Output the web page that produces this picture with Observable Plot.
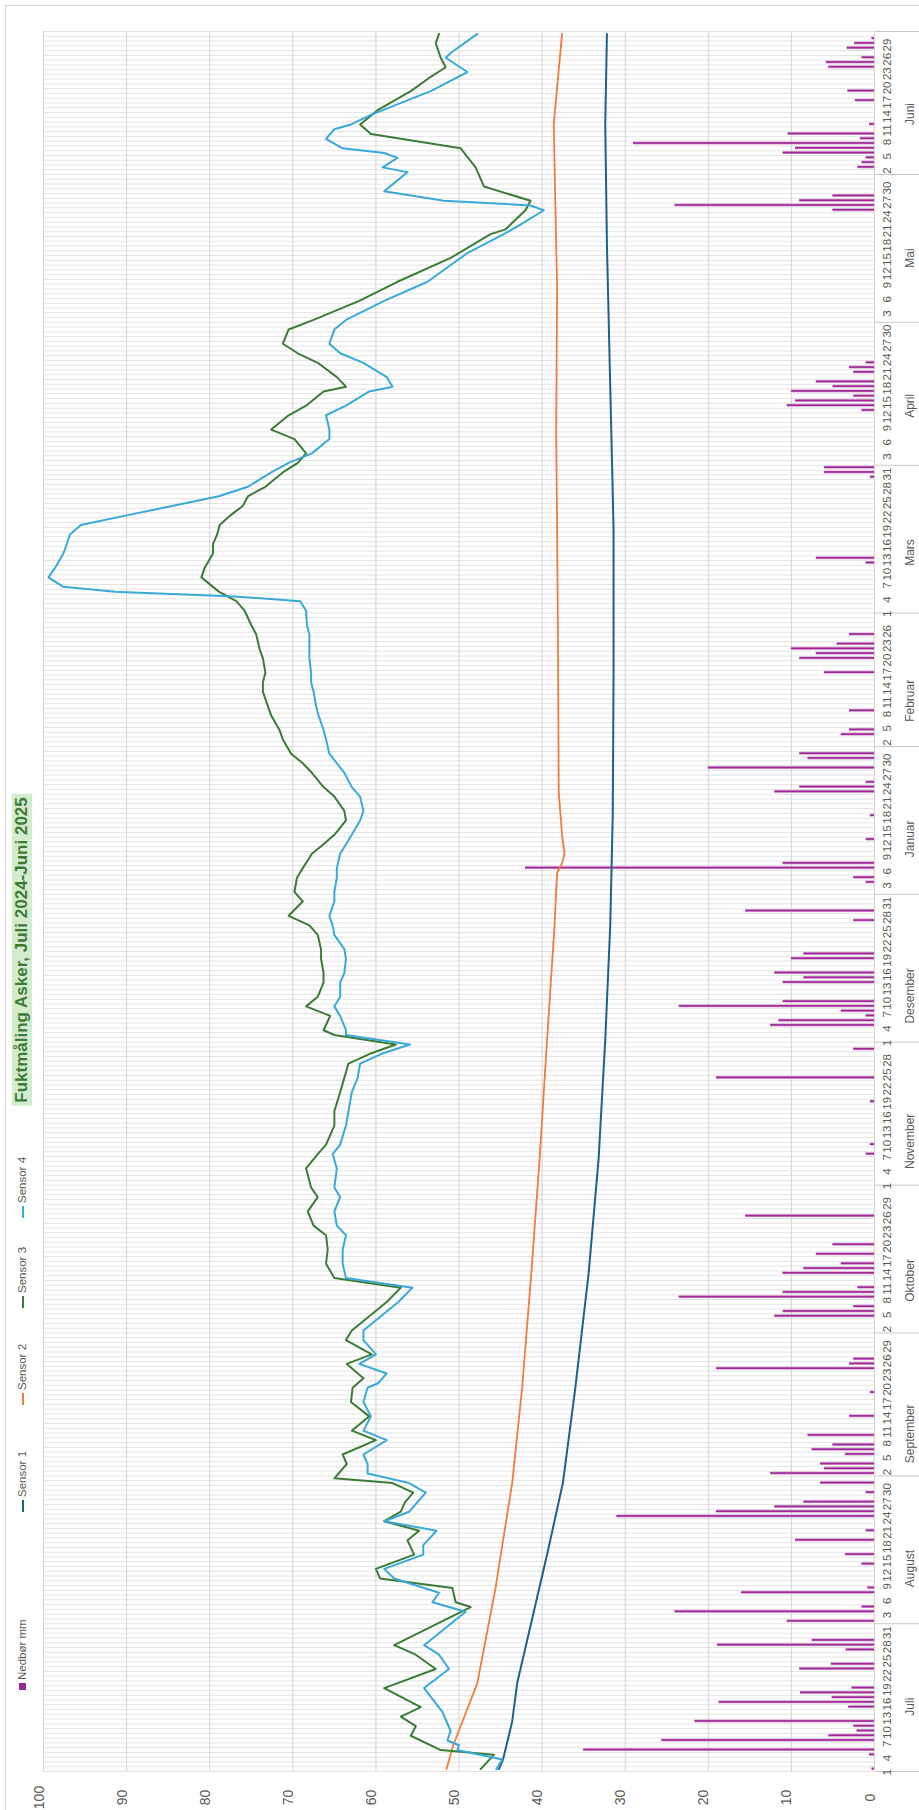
<!DOCTYPE html>
<html><head><meta charset="utf-8">
<script src="https://cdn.jsdelivr.net/npm/d3@7"></script>
<script src="https://cdn.jsdelivr.net/npm/@observablehq/plot@0.6"></script>
<style>
html,body{margin:0;padding:0;background:#fff;overflow:hidden;width:919px;height:1810px;font-family:"Liberation Sans",Arial,sans-serif}
#border{position:absolute;left:5px;top:5px;width:1000px;height:2000px;border:1px solid #d9d9d9}
#chart{position:absolute;left:0;top:0}
.leg{position:absolute;white-space:nowrap;font-size:11.5px;color:#595959;transform-origin:0 50%;transform:translate(0,-50%) rotate(-90deg);line-height:14px}
.sw{display:inline-block;vertical-align:middle;margin-right:3px}
#title{position:absolute;white-space:nowrap;font-size:17px;font-weight:bold;color:#3f7a35;background:#d4ecce;padding:0 3px;line-height:20px;transform:translate(-50%,-50%) rotate(-90deg)}
</style></head><body>
<div id="border"></div>
<div id="chart"></div>
<script>
// ---- categories (1 Jul 2024 .. 30 Jun 2025) ----
const monthNames = ["Juli","August","September","Oktober","November","Desember","Januar","Februar","Mars","April","Mai","Juni"];
const monthLengths = [31,31,30,31,30,31,31,28,31,30,31,30];
const valueTicks = [0,10,20,30,40,50,60,70,80,90,100];

// ---- series: day index (0 = 1 juli 2024) and value ----
const s1Day = [0,2,10,18,33,45,60,80,104,128,153,177,200,230,260,290,320,345,364];
const s1Val = [45.2,44.7,43.6,43.0,41.0,39.4,37.5,36.0,34.4,33.2,32.4,31.8,31.5,31.4,31.4,31.8,32.2,32.4,32.2];

const s2Day = [0,5,18,38,60,80,104,128,153,177,188,190,192,196,205,240,280,311,345,364];
const s2Val = [51.5,50.7,47.8,45.6,43.6,42.4,41.3,40.3,39.4,38.5,38.2,37.6,37.3,37.6,38.0,38.1,38.3,38.2,38.6,37.6];

const s3Day = [0,3,4,7,9,11,13,17,21,24,26,34,35,38,40,42,45,48,50,52,54,56,58,60,61,64,66,69,71,74,77,80,82,85,87,90,92,95,98,101,103,106,109,112,114,117,120,122,126,129,131,135,138,142,145,148,150,152,154,155,158,160,162,165,167,170,172,175,177,179,182,184,187,189,192,194,196,199,201,204,206,209,211,213,216,218,221,223,226,228,230,233,235,238,240,243,245,247,249,250,252,255,257,259,261,263,265,267,269,272,274,276,279,281,284,286,289,290,292,295,297,299,302,304,308,312,317,322,323,327,329,332,336,340,343,345,348,352,355,357,359,362,364];
const s3Val = [47.4,45.8,52.2,55.8,55.2,57,54.6,59,52.8,55.2,57.8,48.6,50.4,50.8,59.5,60,55.4,56.2,54.8,59,57,56.5,55.5,58,65,63.5,64,60,62.9,60.8,63,62.8,61.5,63.5,60.5,63.6,62.9,60.8,58.7,57,65,66,65.8,66,67.5,68.2,67,67.8,68.4,67,66,65,65,64.3,63.8,63.3,60.8,57.6,65,66.3,65.5,68.4,67,66.3,66.3,66.6,66.6,67,68,70.5,68.8,69.8,69.5,68.8,67.7,66.3,65,63.6,63.8,65,66.3,67.7,68.8,70.2,71.2,71.6,72.6,73,73.6,73.6,73.3,73.6,74,74.4,75,75.8,76.8,78.9,80.3,81,80.6,79.6,79.6,79.1,78.8,77.5,76,75.4,73.3,71.2,69.4,68.4,69.8,72.6,70.5,68.4,66.3,63.6,64.7,67,69.4,71.2,70.5,67.5,62,57.4,51,46.2,44.4,42,41.4,47,48,49.8,60.6,61.9,59.8,55.8,53.4,51.6,52.2,52.8,52.4];

const s4Day = [0,2,4,5,6,8,12,17,21,24,26,33,35,37,40,42,45,47,50,52,54,56,58,60,62,64,66,69,71,74,77,80,81,83,85,87,90,92,95,98,101,103,106,109,112,114,117,120,122,126,129,131,135,138,142,145,148,150,152,154,155,158,160,162,165,167,170,172,175,177,179,182,184,187,189,192,194,196,199,201,204,206,209,211,213,216,218,221,223,226,228,230,233,235,238,240,243,245,246,247,248,250,252,255,257,259,261,263,265,267,269,272,274,276,279,281,284,286,289,290,292,295,297,299,302,304,308,312,318,322,324,327,328,329,331,335,336,338,339,340,342,344,345,347,352,356,359,360,364];
const s4Val = [45.5,44.8,50.2,50,51.4,51,52,54.2,51.2,52.4,54.2,49.2,53.2,52.4,57.8,59,54.3,54.3,52.7,59,56,55,54,56,61,61,61.5,58.7,61.5,60.6,61.5,61,59.7,58.7,62,60,61.5,61.5,59.4,57.3,55.6,63.6,64,64,63.6,64.7,65,64.3,65,64.7,65.2,64.3,63.6,63.3,62.9,62.2,61.9,59.4,55.9,63.6,63.6,64.3,65,64.3,64.3,63.8,63.6,63.8,65,65.2,65.6,65,65,64.7,64.7,64.3,63.6,62.9,61.9,61.5,61.9,62.9,63.8,64.7,65.6,66,66.3,66.9,67.2,67.5,67.8,67.8,68,68,68,68.3,68.4,69.1,77,91.4,97.6,99.4,98.6,97.6,97.2,96.8,95.5,90,84.4,78.9,75.4,72.6,70.5,67.7,65.6,65.6,66,63.6,60.8,58,58.7,61.5,64.3,65.6,65,63.6,59,53.8,49,44.6,42.6,39.8,41.4,51.8,59,56.2,59.2,57.4,59,64,66,65,63,60.6,53.4,49,51.6,51,47.8];

const rainDay = [0,3,4,6,7,8,9,10,13,14,15,16,17,21,22,25,26,27,31,33,34,37,38,43,45,48,50,53,54,55,56,58,60,62,63,64,66,67,68,70,74,79,84,85,86,95,96,97,99,100,101,104,105,106,108,110,116,129,131,140,145,151,156,157,158,159,160,161,165,166,167,170,171,178,180,186,187,189,190,195,200,205,206,207,210,212,213,217,218,222,230,233,234,235,236,238,253,254,271,272,273,285,286,287,288,289,290,291,293,294,295,327,328,329,330,336,337,338,339,340,341,342,343,345,350,352,357,358,359,361,362,363];
const rainMm  = [0.3,0.6,35,25.6,5.5,2.1,2.5,21.6,3.1,18.7,5.1,8.9,2.7,9,5.2,3.4,18.9,7.5,10.5,24,1.5,16,0.8,1.5,3.5,9.5,1,31,19,12,8.5,1,6.5,12.5,6,6.5,3.5,7.5,5,8,3,0.5,19,3,2.5,12,11,2.5,23.5,11,2,11,8.5,4,7,5,15.5,1,0.5,0.5,19,2.5,12.5,11.5,1,4,23.5,11,11,8.5,12,10,8.5,2.5,15.5,1,2.5,42,11,1,0.5,12,9,1,20,8,9,4,3,3,6,9,7,10,4.5,3,1,7,0.5,6,6,1.5,10.5,9.5,2.5,10,5,7,2.5,3,1,5,24,9,5,2,1.5,1,11,9.5,29,1.7,10.4,0.6,2.3,3.2,5.5,5.8,1.5,3.3,2.4,0.3];

// ---- derived tables ----
const nDays = d3.sum(monthLengths);
const monthStart = monthLengths.map((_, i) => d3.sum(monthLengths.slice(0, i)));
const dayNum = monthLengths.flatMap(n => d3.range(1, n + 1));
const dayTicks = d3.range(0, nDays, 3);
const monthCenters = monthNames.map((m, i) => ({m, c: monthStart[i] + (monthLengths[i] - 1) / 2}));
const monthBounds = [...monthStart, nDays].map(s => s - 0.5);
const series = (days, vals) => days.map((d, i) => ({d, v: vals[i]}));
const rain = rainDay.map((d, i) => ({d, mm: rainMm[i]}));

const chart = Plot.plot({
  width: 919, height: 1810,
  marginLeft: 43, marginRight: 45, marginTop: 31, marginBottom: 39,
  style: {fontFamily: "Liberation Sans, Arial, sans-serif", background: "transparent"},
  x: {domain: [0, 100], reverse: true, axis: null},
  y: {domain: [-0.5, nDays - 0.5], axis: null},
  marks: [
    Plot.ruleY(d3.range(nDays + 1).map(i => i - 0.5), {stroke: "#e3e3e3", strokeWidth: 1}),
    Plot.ruleX(valueTicks, {stroke: "#d3d3d3", strokeWidth: 1}),
    Plot.rectX(rain, {x: "mm", y1: d => d.d - 0.32, y2: d => d.d + 0.32, fill: "#d9a3d5"}),
    Plot.rectX(rain, {x: "mm", y1: d => d.d - 0.17, y2: d => d.d + 0.17, fill: "#9c2a94"}),
    Plot.line(series(s1Day, s1Val), {x: "v", y: "d", stroke: "#1f6189", strokeWidth: 2}),
    Plot.line(series(s2Day, s2Val), {x: "v", y: "d", stroke: "#ef7d3c", strokeWidth: 1.8}),
    Plot.line(series(s3Day, s3Val), {x: "v", y: "d", stroke: "#3b7c36", strokeWidth: 2}),
    Plot.line(series(s4Day, s4Val), {x: "v", y: "d", stroke: "#3aa9d8", strokeWidth: 2}),
    Plot.axisY(monthBounds, {anchor: "right", tickSize: 46, tickFormat: () => "", stroke: "#c8c8c8", label: null}),
    Plot.text(dayTicks, {y: d => d, text: d => String(dayNum[d]), frameAnchor: "right", dx: 8, rotate: -90, lineAnchor: "top", fontSize: 11.5, fill: "#595959"}),
    Plot.text(monthCenters, {y: "c", text: "m", frameAnchor: "right", dx: 31, rotate: -90, lineAnchor: "top", fontSize: 12, fill: "#595959"}),
    Plot.text(valueTicks, {x: d => d, text: d => String(d), frameAnchor: "bottom", dy: 26, rotate: -90, fontSize: 14, fill: "#595959"})
  ]
});
document.getElementById("chart").appendChild(chart);

// ---- legend (rotated, reading bottom to top) ----
const legendItems = [
  {label: "Nedbør mm", color: "#9c2a94", square: true, y: 1690},
  {label: "Sensor 1", color: "#1f6189", y: 1512},
  {label: "Sensor 2", color: "#ef7d3c", y: 1405},
  {label: "Sensor 3", color: "#3b7c36", y: 1308},
  {label: "Sensor 4", color: "#3aa9d8", y: 1218}
];
for (const it of legendItems) {
  const el = document.createElement("div");
  el.className = "leg";
  el.style.left = "22px";
  el.style.top = it.y + "px";
  const sw = document.createElement("span");
  sw.className = "sw";
  if (it.square) { sw.style.width = "7px"; sw.style.height = "7px"; }
  else { sw.style.width = "12px"; sw.style.height = "2px"; }
  sw.style.background = it.color;
  el.appendChild(sw);
  el.appendChild(document.createTextNode(it.label));
  document.body.appendChild(el);
}
const title = document.createElement("div");
title.id = "title";
title.textContent = "Fuktmåling Asker, Juli 2024-Juni 2025";
title.style.left = "22px";
title.style.top = "950px";
document.body.appendChild(title);
</script>
</body></html>
